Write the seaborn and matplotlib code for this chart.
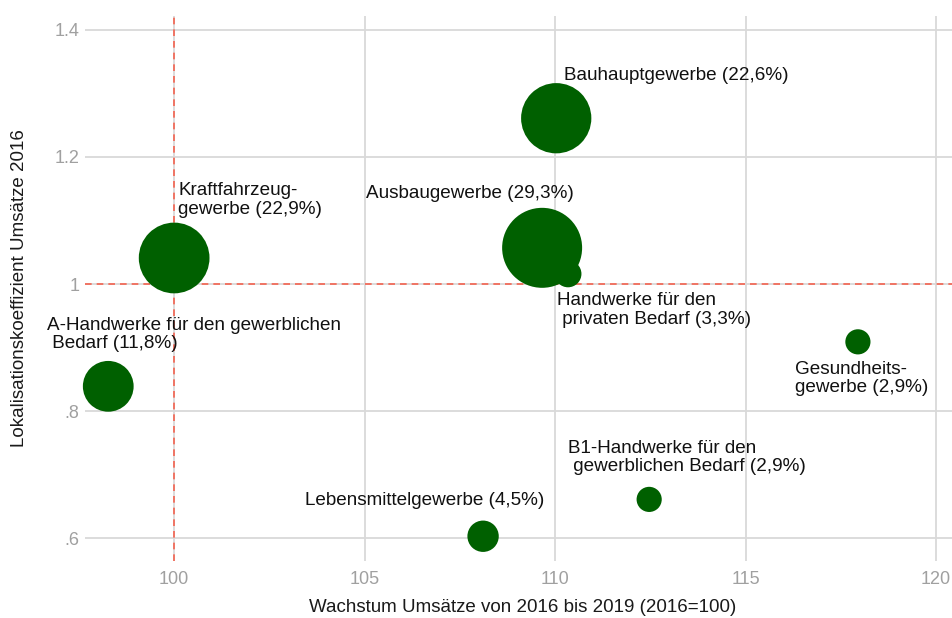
import pandas as pd
import seaborn as sns
import matplotlib.pyplot as plt

# Werte
gewerbe = [
    "Kraftfahrzeug-\ngewerbe",
    "A-Handwerke für den gewerblichen\n Bedarf",
    "Bauhauptgewerbe",
    "Ausbaugewerbe",
    "Handwerke für den\n privaten Bedarf",
    "Gesundheits-\ngewerbe",
    "B1-Handwerke für den\n gewerblichen Bedarf",
    "Lebensmittelgewerbe",
]
wachstum = [100.0, 98.27, 110.03, 109.66, 110.34, 117.95, 112.47, 108.11]
lokalisation = [1.041, 0.839, 1.261, 1.057, 1.016, 0.909, 0.661, 0.603]
anteil = [22.9, 11.8, 22.6, 29.3, 3.3, 2.9, 2.9, 4.5]

# Label-Versatz in Pixeln (links, vertikale Mitte)
label_offsets = [(4, 58), (-61, 52), (8, 43), (-176, 54),
                 (-11, -36), (-63, -37), (-81, 42), (-178, 36)]

df = pd.DataFrame({"gewerbe": gewerbe, "wachstum": wachstum,
                   "lok": lokalisation, "anteil": anteil})

sns.set_theme(style="white")
plt.rcParams['font.family'] = ['Liberation Sans', 'DejaVu Sans']

fig = plt.figure(figsize=(9.52, 6.18), dpi=100)
ax = fig.add_axes([0.0893, 0.0922, 0.9107, 0.882])

k = 113.2
sns.scatterplot(data=df, x="wachstum", y="lok", size="anteil",
                sizes=(k * 2.9, k * 29.3), size_norm=(2.9, 29.3),
                color="#006000", edgecolor="none", legend=False,
                ax=ax, zorder=3, clip_on=False)

ax.set_xlim(97.66, 120.42)
ax.set_ylim(0.564, 1.422)
ax.set_xticks([100, 105, 110, 115, 120])
ax.set_yticks([0.6, 0.8, 1.0, 1.2, 1.4])
ax.set_yticklabels([".6", ".8", "1", "1.2", "1.4"])
ax.grid(True, color="#d9d9d9", linewidth=1.3, zorder=0)
ax.set_axisbelow(True)
for s in ax.spines.values():
    s.set_visible(False)
ax.tick_params(axis="both", colors="#a0a0a0", labelsize=13, length=0)
ax.tick_params(axis="x", pad=7)
ax.tick_params(axis="y", pad=4)

ax.axvline(100, color="#f4624f", linestyle=(0, (4, 3)), linewidth=1.2, zorder=2)
ax.axhline(1, color="#f4624f", linestyle=(0, (4, 3)), linewidth=1.2, zorder=2)

ax.set_xlabel("Wachstum Umsätze von 2016 bis 2019 (2016=100)", fontsize=13.5, color="#1a1a1a")
ax.set_ylabel("Lokalisationskoeffizient Umsätze 2016", fontsize=13.5, color="#1a1a1a", labelpad=19)
ax.xaxis.set_label_coords(0.505, -0.07)

for name, x, y, a, (dx, dy) in zip(gewerbe, wachstum, lokalisation, anteil, label_offsets):
    txt = f"{name} ({a:.1f}%)".replace(".", ",")
    ax.annotate(txt, xy=(x, y), xytext=(dx, dy), textcoords="offset pixels",
                ha="left", va="center", fontsize=13.6, color="#111111",
                linespacing=1.1, zorder=4)

fig.savefig("out.png", dpi=100)
